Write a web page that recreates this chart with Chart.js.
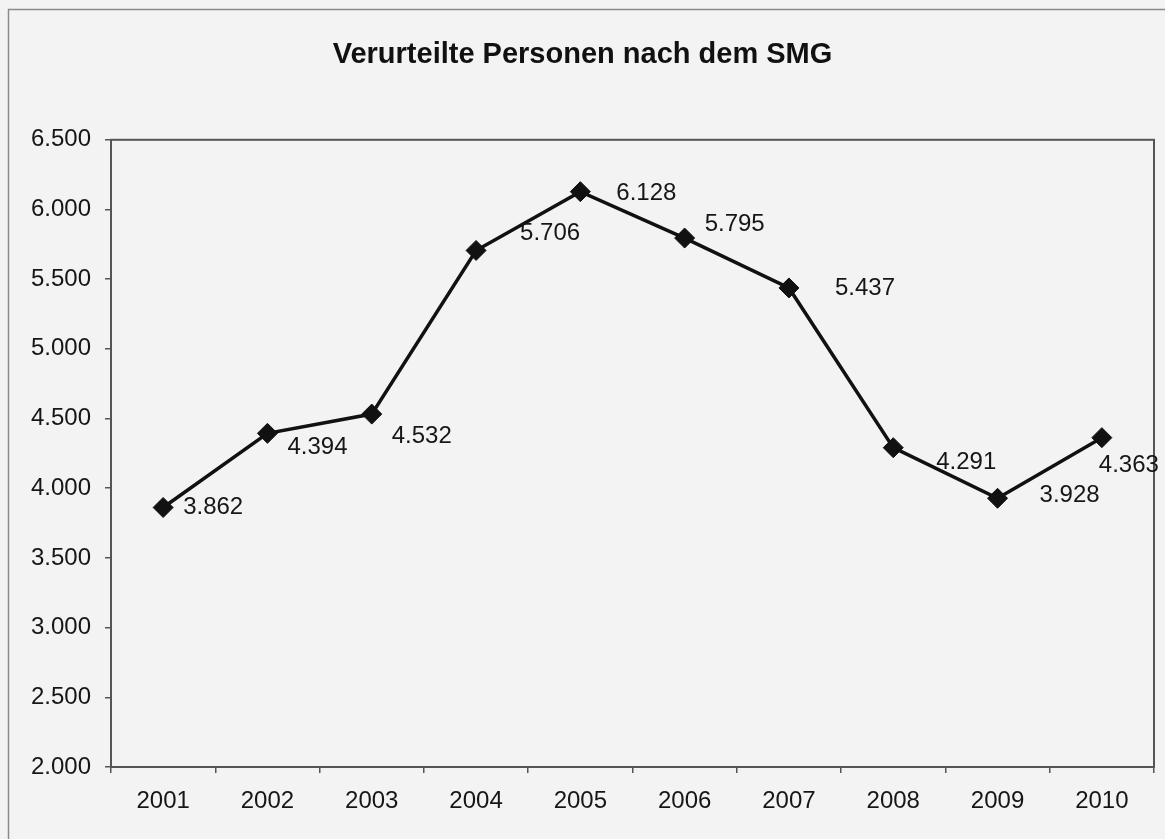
<!DOCTYPE html>
<html>
<head>
<meta charset="utf-8">
<script src="https://cdn.jsdelivr.net/npm/chart.js@4.4.1/dist/chart.umd.min.js"></script>
<style>
  html, body { margin: 0; padding: 0; background: #f3f3f3; }
  #wrap { width: 1165px; height: 839px; }
</style>
</head>
<body>
<div id="wrap"><canvas id="chart" width="1165" height="839"></canvas></div>
<script>
// Verurteilte Personen nach dem SMG, 2001-2010
const years = ["2001", "2002", "2003", "2004", "2005", "2006", "2007", "2008", "2009", "2010"];
const convicted = [3862, 4394, 4532, 5706, 6128, 5795, 5437, 4291, 3928, 4363];
const yMin = 2000, yMax = 6500, yStep = 500;

// where each value label sits relative to its point (left edge dx, centre dy)
const labelOffsets = [[20, 0], [20, 14], [20, 22], [44, -17], [36, 2], [20, -14], [46, 0], [43, 15], [42, -3], [-3, 28]];

const FONT = "'Liberation Sans', Arial, sans-serif";
const INK = "#161616";
const AXIS = "#555";

// German thousands separator: 6500 -> "6.500"
const fmt = v => String(Math.round(v)).replace(/\B(?=(\d{3})+(?!\d))/g, ".");

const backdrop = {
  id: "backdrop",
  beforeDraw(chart) {
    const { ctx, width, height } = chart;
    ctx.save();
    ctx.fillStyle = "#f3f3f3";
    ctx.fillRect(0, 0, width, height);
    ctx.strokeStyle = "#8a8a8a";
    ctx.lineWidth = 1.5;
    ctx.strokeRect(8.5, 9.5, width + 20, height + 20);
    ctx.restore();
  },
  beforeDatasetsDraw(chart) {
    const { ctx, chartArea: a } = chart;
    ctx.save();
    ctx.strokeStyle = AXIS;
    ctx.lineWidth = 2;
    ctx.strokeRect(a.left, a.top, a.right - a.left, a.bottom - a.top);
    ctx.restore();
  }
};

const valueLabels = {
  id: "valueLabels",
  afterDatasetsDraw(chart) {
    const { ctx } = chart;
    const meta = chart.getDatasetMeta(0);
    ctx.save();
    ctx.font = "24px " + FONT;
    ctx.fillStyle = INK;
    ctx.textAlign = "left";
    ctx.textBaseline = "middle";
    meta.data.forEach((pt, i) => {
      const [dx, dy] = labelOffsets[i];
      ctx.fillText(fmt(convicted[i]), pt.x + dx, pt.y + dy);
    });
    ctx.restore();
  }
};

new Chart(document.getElementById("chart"), {
  type: "line",
  data: {
    labels: years,
    datasets: [{
      data: convicted,
      borderColor: "#111",
      borderWidth: 3.5,
      pointStyle: "rectRot",
      pointRadius: 10,
      pointBackgroundColor: "#111",
      pointBorderColor: "#111",
      pointBorderWidth: 1,
      tension: 0,
      fill: false
    }]
  },
  options: {
    responsive: false,
    animation: false,
    devicePixelRatio: 1,
    layout: { padding: { left: 0, right: 0, top: 0, bottom: 0 } },
    plugins: {
      legend: { display: false },
      tooltip: { enabled: false },
      title: {
        display: true,
        text: "Verurteilte Personen nach dem SMG",
        color: "#111",
        font: { family: FONT, size: 29, weight: "bold" },
        padding: { top: 38, bottom: 67 }
      }
    },
    scales: {
      x: {
        type: "category",
        offset: true,
        afterFit: s => { s.height = 72; },
        grid: { offset: true, drawOnChartArea: false, tickLength: 6, color: AXIS, lineWidth: 1.5 },
        border: { color: AXIS, width: 2 },
        ticks: { color: INK, padding: 14, font: { family: FONT, size: 24 }, maxRotation: 0 }
      },
      y: {
        min: yMin,
        max: yMax,
        afterFit: s => { s.width = 111; },
        grid: { drawOnChartArea: false, tickLength: 6, color: AXIS, lineWidth: 1.5 },
        border: { color: AXIS, width: 2 },
        ticks: {
          stepSize: yStep,
          color: INK,
          padding: 14,
          font: { family: FONT, size: 24 },
          callback: v => fmt(v)
        }
      }
    }
  },
  plugins: [backdrop, valueLabels]
});
</script>
</body>
</html>
